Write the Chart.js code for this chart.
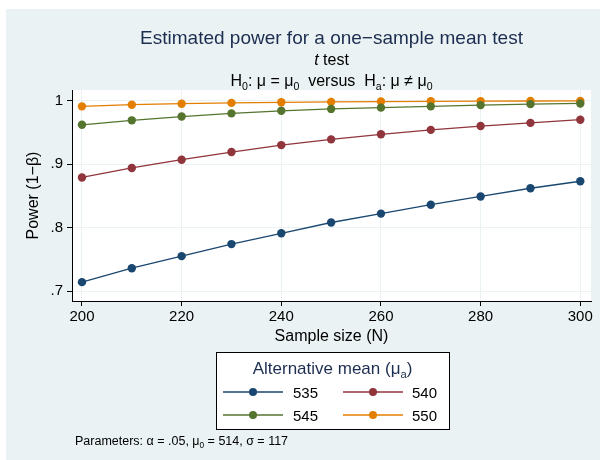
<!DOCTYPE html>
<html><head><meta charset="utf-8">
<script src="https://cdn.jsdelivr.net/npm/chart.js@4"></script>
<style>html,body{margin:0;padding:0;background:#ffffff}canvas{display:block}</style>
</head><body>
<canvas id="c" width="600" height="460"></canvas>
<script>
const sampleSizes = [200, 210, 220, 230, 240, 250, 260, 270, 280, 290, 300];
const power535 = [0.714, 0.736, 0.755, 0.774, 0.791, 0.808, 0.822, 0.836, 0.849, 0.862, 0.873];
const power540 = [0.879, 0.894, 0.907, 0.919, 0.930, 0.939, 0.947, 0.954, 0.960, 0.965, 0.970];
const power545 = [0.962, 0.969, 0.975, 0.980, 0.984, 0.987, 0.989, 0.991, 0.993, 0.9945, 0.9956];
const power550 = [0.991, 0.9936, 0.9952, 0.9965, 0.9974, 0.9981, 0.9986, 0.9990, 0.9993, 0.9995, 0.9996];
const seriesLabels = ['535', '540', '545', '550'];
const seriesColors = ['#1a476f', '#90353b', '#55752f', '#e37e00'];
const xTicks = [200, 220, 240, 260, 280, 300];
const yTicks = [0.7, 0.8, 0.9, 1];
const yTickLabels = ['.7', '.8', '.9', '1'];

const FONT = '"Liberation Sans", Arial, sans-serif';
const BG = '#eaf2f3';
const TITLE_COLOR = '#1c2d50';

const seriesValues = [power535, power540, power545, power550];
const datasets = seriesValues.map((vals, i) => ({
  label: seriesLabels[i],
  data: sampleSizes.map((n, j) => ({x: n, y: vals[j]})),
  borderColor: seriesColors[i],
  backgroundColor: seriesColors[i],
  pointBackgroundColor: seriesColors[i],
  pointBorderWidth: 0,
  pointRadius: 4.2,
  borderWidth: 1.3,
  tension: 0,
  fill: false
}));

function drawRich(ctx, parts, x, y, align, size, color) {
  const fonts = parts.map(p => (p.italic ? 'italic ' : '') + (p.sub ? size * 0.66 : size) + 'px ' + FONT);
  let w = 0;
  parts.forEach((p, i) => { ctx.font = fonts[i]; w += ctx.measureText(p.t).width; });
  let cx = align === 'center' ? x - w / 2 : x;
  ctx.fillStyle = color;
  ctx.textAlign = 'left';
  ctx.textBaseline = 'alphabetic';
  parts.forEach((p, i) => {
    ctx.font = fonts[i];
    ctx.fillText(p.t, cx, p.sub ? y + size * 0.22 : y);
    cx += ctx.measureText(p.t).width;
  });
}

const decor = {
  id: 'decor',
  beforeDraw(chart) {
    const ctx = chart.ctx, a = chart.chartArea;
    ctx.save();
    ctx.fillStyle = '#ffffff';
    ctx.fillRect(0, 0, chart.width, chart.height);
    ctx.fillStyle = BG;
    ctx.fillRect(6, 9, chart.width - 6, chart.height - 9);
    ctx.fillStyle = '#ffffff';
    ctx.fillRect(a.left, a.top, a.right - a.left, a.bottom - a.top);
    ctx.restore();
  },
  afterDraw(chart) {
    const ctx = chart.ctx, a = chart.chartArea;
    const cx = (a.left + a.right) / 2;
    ctx.save();
    // titles
    drawRich(ctx, [{t: 'Estimated power for a one\u2212sample mean test'}], cx, 44, 'center', 19, TITLE_COLOR);
    drawRich(ctx, [{t: 't', italic: true}, {t: ' test'}], cx, 65, 'center', 16, '#000');
    drawRich(ctx, [{t: 'H'}, {t: '0', sub: true}, {t: ': \u03bc = \u03bc'}, {t: '0', sub: true},
      {t: '  versus  H'}, {t: 'a', sub: true}, {t: ': \u03bc \u2260 \u03bc'}, {t: '0', sub: true}], cx, 86, 'center', 16, '#000');
    // axis titles
    drawRich(ctx, [{t: 'Sample size (N)'}], cx, 341, 'center', 16, '#000');
    ctx.save();
    ctx.translate(38, (a.top + a.bottom) / 2);
    ctx.rotate(-Math.PI / 2);
    drawRich(ctx, [{t: 'Power (1\u2212\u03b2)'}], 0, 0, 'center', 16, '#000');
    ctx.restore();
    // legend
    const L = 216, T = 352, R = 449, B = 429;
    ctx.fillStyle = '#ffffff';
    ctx.fillRect(L, T, R - L, B - T);
    ctx.strokeStyle = '#000';
    ctx.lineWidth = 1;
    ctx.strokeRect(L + 0.5, T + 0.5, R - L, B - T);
    drawRich(ctx, [{t: 'Alternative mean (\u03bc'}, {t: 'a', sub: true}, {t: ')'}], (L + R) / 2, 374, 'center', 17, TITLE_COLOR);
    const cols = [{x0: 223, x1: 283, tx: 293}, {x0: 343, x1: 403, tx: 412}];
    const rows = [392, 415];
    chart.data.datasets.forEach((ds, i) => {
      const c = cols[i % 2], ry = rows[Math.floor(i / 2)];
      ctx.strokeStyle = ds.borderColor;
      ctx.lineWidth = 1.3;
      ctx.beginPath();
      ctx.moveTo(c.x0, ry);
      ctx.lineTo(c.x1, ry);
      ctx.stroke();
      ctx.fillStyle = ds.borderColor;
      ctx.beginPath();
      ctx.arc((c.x0 + c.x1) / 2, ry, 4, 0, Math.PI * 2);
      ctx.fill();
      drawRich(ctx, [{t: ds.label}], c.tx, ry + 5.5, 'left', 15, '#000');
    });
    // footnote
    drawRich(ctx, [{t: 'Parameters: \u03b1 = .05, \u03bc'}, {t: '0', sub: true}, {t: ' = 514, \u03c3 = 117'}], 75, 445, 'left', 12.5, '#000');
    ctx.restore();
  }
};

new Chart(document.getElementById('c'), {
  type: 'line',
  data: {datasets},
  options: {
    responsive: false,
    animation: false,
    events: [],
    layout: {padding: {left: 0, right: 9, top: 90, bottom: 119}},
    plugins: {legend: {display: false}, tooltip: {enabled: false}, title: {display: false}},
    scales: {
      x: {
        type: 'linear',
        min: 198, max: 302.15,
        afterBuildTicks: s => { s.ticks = xTicks.map(v => ({value: v})); },
        afterFit: s => { s.height = 40; },
        grid: {color: BG, lineWidth: 1, tickColor: '#000', tickLength: 5, drawTicks: true},
        border: {display: true, color: '#000', width: 1},
        ticks: {color: '#000', font: {family: FONT, size: 15}, padding: 2, maxRotation: 0, autoSkip: false}
      },
      y: {
        type: 'linear',
        min: 0.6843, max: 1.0168,
        afterBuildTicks: s => { s.ticks = yTicks.map(v => ({value: v})); },
        afterFit: s => { s.width = 72; },
        grid: {color: BG, lineWidth: 1, tickColor: '#000', tickLength: 5, drawTicks: true},
        border: {display: true, color: '#000', width: 1},
        ticks: {
          color: '#000', font: {family: FONT, size: 15}, padding: 4, autoSkip: false,
          callback: v => { const k = yTicks.findIndex(t => Math.abs(t - v) < 1e-6); return k >= 0 ? yTickLabels[k] : ''; }
        }
      }
    }
  },
  plugins: [decor]
});
</script>
</body></html>
